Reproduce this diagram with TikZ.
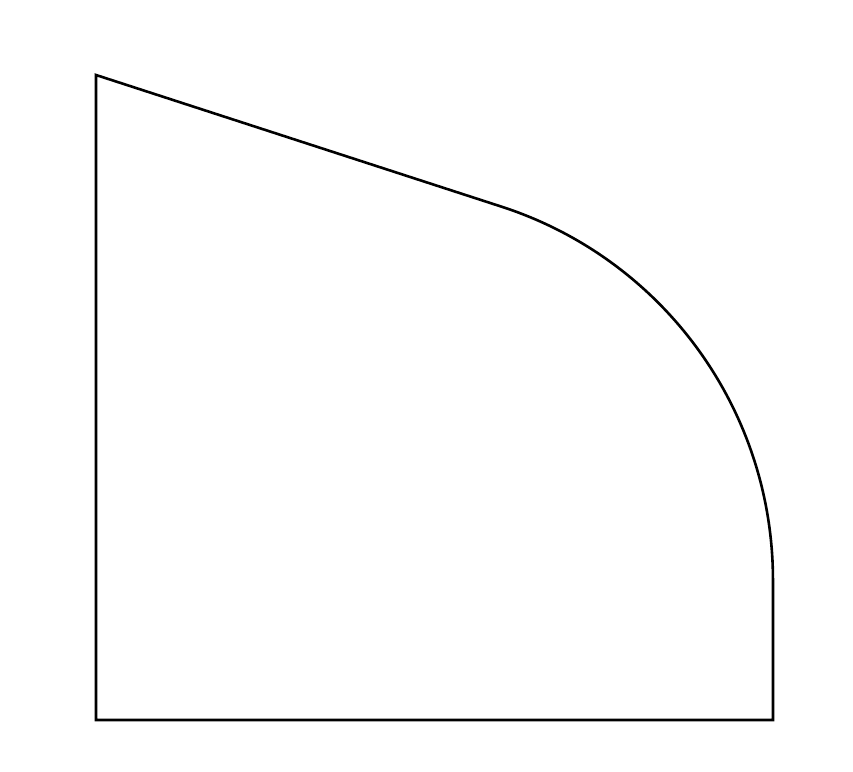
\documentclass[tikz,border=0pt]{standalone}
\begin{document}
\begin{tikzpicture}[x=1pt,y=1pt,outline/.style={draw=black,line width=2.6pt,line join=miter}]
\useasboundingbox (0,0) rectangle (853,771);
\coordinate (bl) at (96,51);
\coordinate (tl) at (96,696);
\coordinate (t1) at (501.6,564.3);
\coordinate (br) at (773,51);
\draw[outline] (bl) -- (tl) -- (t1) arc[start angle=72.02,end angle=0,radius=392.5] -- (br) -- cycle;
\end{tikzpicture}
\end{document}
